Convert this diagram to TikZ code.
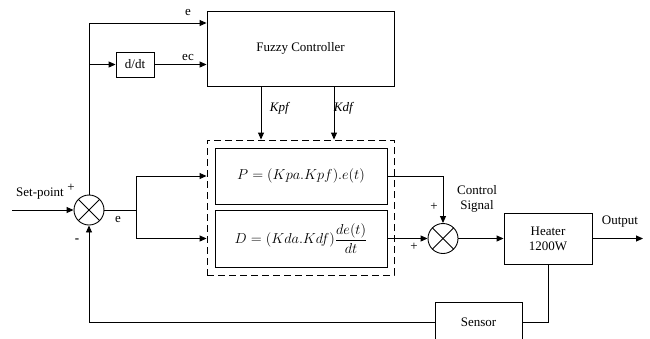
\documentclass[tikz,border=0pt]{standalone}
\usepackage{amsmath}
\usepackage{fontspec}
\setmainfont{Liberation Serif}
\usetikzlibrary{arrows.meta}

\begin{document}
\begin{tikzpicture}[
        x=1pt, y=-1pt,
        line width=0.9pt,
        every node/.style={font=\fontsize{13}{15}\selectfont},
        blk/.style={draw, rectangle, inner sep=0pt},
        eqn/.style={blk, font=\fontsize{14}{16}\selectfont},
        sumnode/.style={draw, circle, minimum size=30pt, inner sep=0pt,
            path picture={
                \draw (path picture bounding box.north west) -- (path picture bounding box.south east);
                \draw (path picture bounding box.north east) -- (path picture bounding box.south west);
            }},
        ar/.style={-{Triangle[length=7pt, width=6pt]}},
        lbl/.style={inner sep=1pt},
    ]

    \useasboundingbox (0,0) rectangle (650,338);

    \node[blk, minimum width=187pt, minimum height=75pt](fuzzy) at (300.5,48.5) {Fuzzy Controller};
    \node[blk, minimum width=38pt, minimum height=25pt](ddt) at (135,64.5) {d/dt};
    \node[blk, dash pattern=on 7pt off 4pt, minimum width=187pt, minimum height=135pt](pd) at (300.5,207.5) {};
    \node[eqn, minimum width=172pt, minimum height=56pt](pbox) at (301,176) {$P=(Kpa.Kpf).e(t)$};
    \node[eqn, minimum width=172pt, minimum height=57pt](dbox) at (301,238.5) {$D=(Kda.Kdf)\dfrac{de(t)}{dt}$};
    \node[sumnode](sum1) at (89,210) {};
    \node[sumnode](sum2) at (443,238.5) {};
    \node[blk, minimum width=88pt, minimum height=51pt, align=center](heater) at (548,238.5) {Heater\\1200W};
    \node[blk, minimum width=87pt, minimum height=40pt](sensor) at (478.5,322) {Sensor};

    \coordinate (sp) at (12,210);
    \coordinate (tap) at (89,64.5);
    \coordinate (split) at (136,210);
    \coordinate (out) at (643,238.5);

    % forward path
    \draw[ar] (sp) -- (sum1.west);
    \draw[ar] (sum1.north) |- ([yshift=25.5pt]fuzzy.west);
    \draw[ar] (tap) -- (ddt.west);
    \draw[ar] (ddt.east) -- (ddt.east -| fuzzy.west);
    \draw[ar] ([xshift=-39.5pt]fuzzy.south) -- ([xshift=-39.5pt]pd.north);
    \draw[ar] ([xshift=33.5pt]fuzzy.south) -- ([xshift=33.5pt]pd.north);
    \draw (sum1.east) -- (split);
    \draw[ar] (split) |- (pd.west |- pbox);
    \draw[ar] (split) |- (pd.west |- dbox);
    \draw[ar] (pbox.east) -| (sum2.north);
    \draw[ar] (dbox.east) -- (sum2.west);
    \draw[ar] (sum2.east) -- (heater.west);
    \draw[ar] (heater.east) -- (out);

    % feedback
    \draw (heater.south) |- (sensor.east);
    \draw[ar] (sensor.west) -| (sum1.south);

    % labels
    \node[lbl](le) at (188,12) {e};
    \node[lbl](lec) at (188,57) {ec};
    \node[lbl](lkpf) at (280,108) {\textit{Kpf}};
    \node[lbl](lkdf) at (344,108) {\textit{Kdf}};
    \node[lbl](lsp) at (40,194) {Set-point};
    \node[lbl](lp1) at (71,188) {+};
    \node[lbl](lm1) at (77,241) {\textbf{-}};
    \node[lbl](le2) at (118,219) {e};
    \node[lbl](lp2) at (434,207) {+};
    \node[lbl](lp3) at (414,247) {+};
    \node[lbl, align=center](lcs) at (477,199) {Control\\Signal};
    \node[lbl](lout) at (620,222) {Output};

    \end{tikzpicture}
\end{document}
